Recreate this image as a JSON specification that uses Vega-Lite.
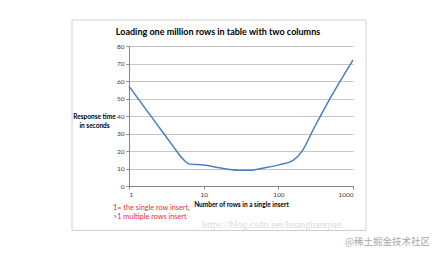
{
  "$schema": "https://vega.github.io/schema/vega-lite/v6.json",
  "width": 224,
  "height": 140,
  "autosize": "none",
  "padding": {"left": 129, "top": 46, "right": 83, "bottom": 70},
  "background": "white",
  "config": {"view": {"stroke": null}, "font": "Lato"},
  "title": {
    "text": "Loading one million rows in table with two columns",
    "font": "Lato",
    "fontSize": 9,
    "fontWeight": "bold",
    "color": "#000000",
    "anchor": "middle",
    "dx": -23,
    "offset": -17
  },
  "layer": [
    {
      "data": {"values": [{}]},
      "mark": {"type": "rect", "fill": null, "stroke": "#d0d0d0", "strokeWidth": 1},
      "encoding": {
        "x": {"value": -57},
        "x2": {"value": 237},
        "y": {"value": -26},
        "y2": {"value": 184.5}
      }
    },
    {
      "data": {
        "values": [
          {"rows": 1, "seconds": 57},
          {"rows": 2, "seconds": 39.5},
          {"rows": 3, "seconds": 29.3},
          {"rows": 4, "seconds": 22.1},
          {"rows": 5, "seconds": 16.5},
          {"rows": 6.5, "seconds": 12.5},
          {"rows": 10, "seconds": 12},
          {"rows": 16, "seconds": 10.4},
          {"rows": 29, "seconds": 9},
          {"rows": 41, "seconds": 9},
          {"rows": 62, "seconds": 10.2},
          {"rows": 105, "seconds": 12.2},
          {"rows": 158, "seconds": 14.7},
          {"rows": 205, "seconds": 19.5},
          {"rows": 300, "seconds": 33},
          {"rows": 500, "seconds": 50.5},
          {"rows": 1000, "seconds": 72}
        ]
      },
      "mark": {"type": "line", "color": "#4a7ebb", "strokeWidth": 1.5, "interpolate": "monotone"},
      "encoding": {
        "x": {
          "field": "rows",
          "type": "quantitative",
          "scale": {"type": "log", "domain": [1, 1000]},
          "axis": {
            "values": [1, 10, 100, 1000],
            "format": "d",
            "grid": false,
            "tickSize": 3,
            "tickColor": "#868686",
            "domainColor": "#868686",
            "labelFontSize": 6.5,
            "labelColor": "#404040",
            "labelPadding": 2,
            "labelFont": "Lato",
            "title": "Number of rows in a single insert",
            "titleFont": "Lato",
            "titleFontSize": 6.5,
            "titleFontWeight": "bold",
            "titleColor": "#000000",
            "titlePadding": 4
          }
        },
        "y": {
          "field": "seconds",
          "type": "quantitative",
          "scale": {"domain": [0, 80]},
          "axis": {
            "values": [0, 10, 20, 30, 40, 50, 60, 70, 80],
            "tickSize": 3,
            "tickColor": "#868686",
            "domainColor": "#868686",
            "gridColor": "#c6c6c6",
            "labelFontSize": 6.5,
            "labelColor": "#404040",
            "labelPadding": 2,
            "labelFont": "Lato",
            "title": ["Response time", "in seconds"],
            "titleFont": "Lato",
            "titleAngle": 0,
            "titleAlign": "center",
            "titleBaseline": "middle",
            "titleX": -35,
            "titleY": 70,
            "titleFontSize": 6.5,
            "titleFontWeight": "bold",
            "titleColor": "#000000",
            "titleLineHeight": 9
          }
        }
      }
    },
    {
      "data": {"values": [{}]},
      "mark": {
        "type": "text",
        "text": ["1= the single row  insert,", ">1 multiple rows insert"],
        "align": "left",
        "baseline": "middle",
        "font": "Lato",
        "fontSize": 7.3,
        "lineHeight": 8.7,
        "color": "#e8312f"
      },
      "encoding": {"x": {"value": -16}, "y": {"value": 162}}
    },
    {
      "data": {"values": [{}]},
      "mark": {
        "type": "text",
        "text": "https://blog.csdn.net/huanghanqian",
        "align": "left",
        "baseline": "middle",
        "font": "Liberation Serif",
        "fontSize": 10,
        "color": "#dadada"
      },
      "encoding": {"x": {"value": 73}, "y": {"value": 179}}
    },
    {
      "data": {"values": [{}]},
      "mark": {
        "type": "text",
        "text": "@稀土掘金技术社区",
        "align": "left",
        "baseline": "middle",
        "font": "Noto Sans CJK SC",
        "fontSize": 9.5,
        "color": "#a6a6a6"
      },
      "encoding": {"x": {"value": 216}, "y": {"value": 196}}
    }
  ]
}
